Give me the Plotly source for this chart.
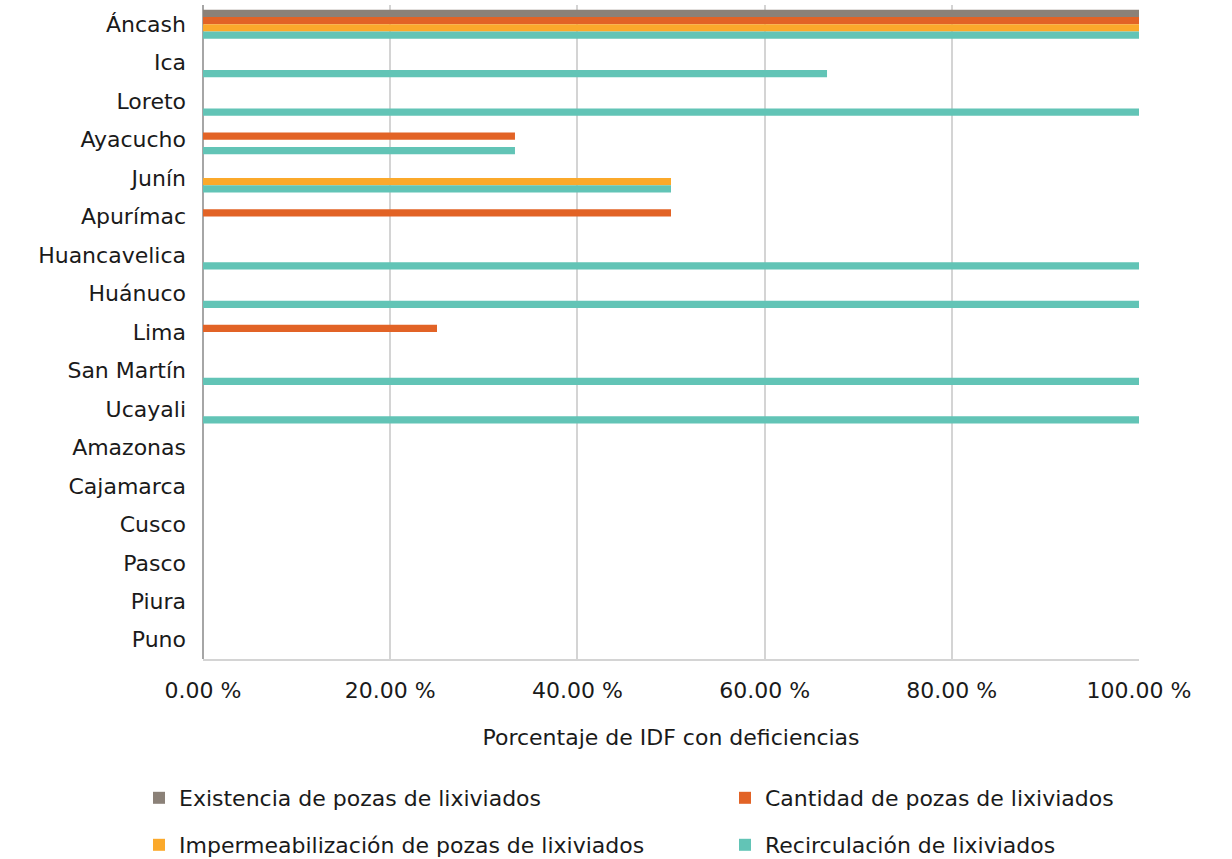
import plotly.graph_objects as go

# Regions (top to bottom) and share of IDF with deficiencies per criterion, in %
regiones = ["Áncash", "Ica", "Loreto", "Ayacucho", "Junín", "Apurímac", "Huancavelica",
            "Huánuco", "Lima", "San Martín", "Ucayali", "Amazonas", "Cajamarca",
            "Cusco", "Pasco", "Piura", "Puno"]

existencia = [100, 0, 0, 0, 0, 0, 0, 0, 0, 0, 0, 0, 0, 0, 0, 0, 0]
cantidad = [100, 0, 0, 33.33, 0, 50, 0, 0, 25, 0, 0, 0, 0, 0, 0, 0, 0]
impermeabilizacion = [100, 0, 0, 0, 50, 0, 0, 0, 0, 0, 0, 0, 0, 0, 0, 0, 0]
recirculacion = [100, 66.67, 100, 33.33, 50, 0, 100, 100, 0, 100, 100, 0, 0, 0, 0, 0, 0]

series = [
    ("Existencia de pozas de lixiviados", existencia, "#8B8178"),
    ("Cantidad de pozas de lixiviados", cantidad, "#E26326"),
    ("Impermeabilización de pozas de lixiviados", impermeabilizacion, "#FBA92B"),
    ("Recirculación de lixiviados", recirculacion, "#62C4B6"),
]

FONT = "DejaVu Sans"
TXT = "#1a1a1a"
FS = 22
W, H = 1232, 859

# legend grid: two columns, two rows under the axis title (pixel positions)
legend_cols = [139, 725]
legend_rows = [798, 845]
legend_ids = ["legend", "legend2", "legend3", "legend4"]

fig = go.Figure()
for i, (name, vals, color) in enumerate(series):
    fig.add_trace(go.Bar(
        y=regiones, x=vals, name=name, orientation="h",
        marker=dict(color=color, line=dict(width=0)),
        legend=legend_ids[i], showlegend=True,
    ))

legends = {}
for i, lid in enumerate(legend_ids):
    legends[lid] = dict(
        orientation="h", xref="container", yref="container",
        x=legend_cols[i % 2] / W, y=1 - legend_rows[i // 2] / H,
        xanchor="left", yanchor="middle",
        font=dict(family=FONT, size=FS, color=TXT),
        bgcolor="rgba(0,0,0,0)",
    )

fig.update_layout(
    width=W, height=H,
    showlegend=True,
    margin=dict(l=203, r=93, t=5, b=200),
    paper_bgcolor="white", plot_bgcolor="white",
    barmode="group", bargap=0.247, bargroupgap=0,
    font=dict(family=FONT, size=FS, color=TXT),
    xaxis=dict(
        range=[0, 100], dtick=20, tickformat=".2f", ticksuffix=" %",
        showgrid=True, gridcolor="#d4d4d4", gridwidth=1.5,
        zeroline=True, zerolinecolor="#a6a6a6", zerolinewidth=2,
        showline=True, linecolor="#d4d4d4", linewidth=1.5,
        ticks="", ticklabelstandoff=11,
        tickfont=dict(family=FONT, size=FS, color=TXT),
        title=dict(text="Porcentaje de IDF con deficiencias", standoff=27,
                   font=dict(family=FONT, size=FS, color=TXT)),
        fixedrange=True,
    ),
    yaxis=dict(
        autorange="reversed", showgrid=False, ticks="",
        ticklabelstandoff=16,
        tickfont=dict(family=FONT, size=FS, color=TXT),
        fixedrange=True,
    ),
    **legends,
)

fig.write_html("out.html")
